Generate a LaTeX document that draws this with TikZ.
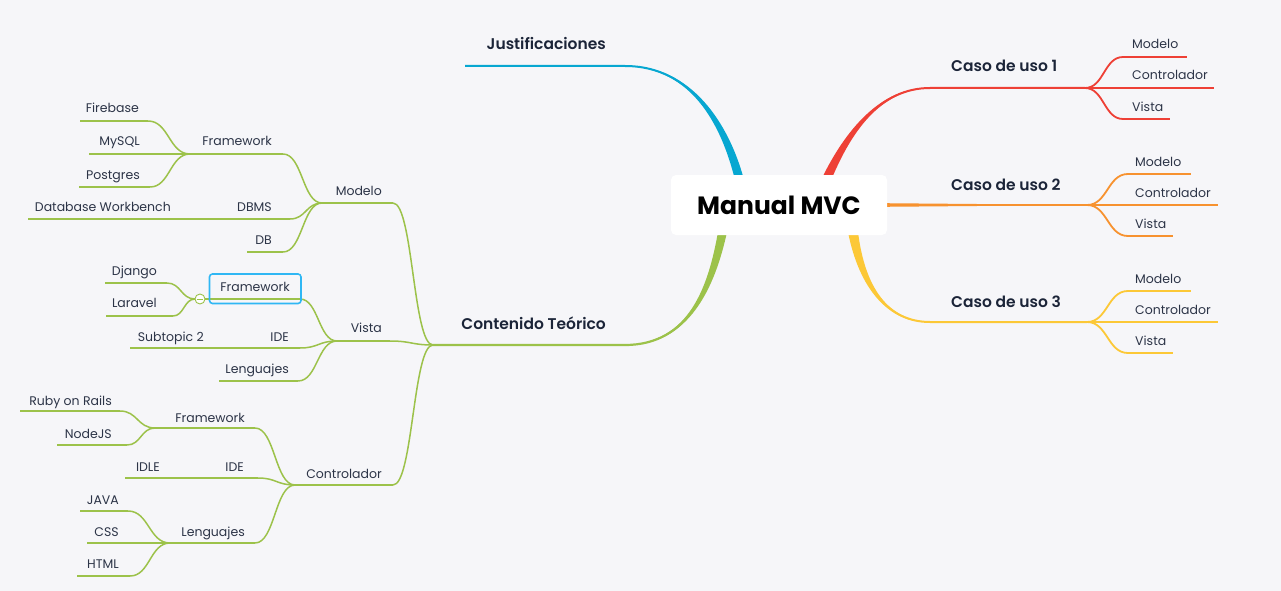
\documentclass[tikz,border=0pt]{standalone}
\usepackage{fontspec}
\setmainfont{Poppins}
\newfontfamily\hdfont{Poppins SemiBold}
\usetikzlibrary{calc}
\definecolor{bgc}{HTML}{F6F6F9}
\definecolor{grn}{HTML}{9CC24A}
\definecolor{blu}{HTML}{07A7D1}
\definecolor{redc}{HTML}{EE4036}
\definecolor{orc}{HTML}{F7922F}
\definecolor{yel}{HTML}{FCC837}
\definecolor{sel}{HTML}{2FB7F4}
\definecolor{txt}{HTML}{2C3447}
\definecolor{hd}{HTML}{1B2438}
\newcommand\mmlink[3][]{\draw[#1] let \p1=(#2), \p2=(#3), \n1={0.5*(\x1+\x2)} in (#2) .. controls (\n1,\y1) and (\n1,\y2) .. (#3);}
\tikzset{
  lbl/.style={inner sep=0pt, text=txt, font=\fontsize{12.5}{15}\selectfont},
  head/.style={inner sep=0pt, text=hd, font=\fontsize{15.5}{18}\hdfont},
  gl/.style={draw=grn, line width=2.5pt},
  gc/.style={draw=grn, line width=1.5pt},
  rl/.style={draw=#1, line width=1.8pt},
  rootbox/.style={fill=white, rounded corners=5pt, minimum width=216pt, minimum height=60pt, inner sep=0pt},
}
\begin{document}
\begin{tikzpicture}[x=1pt,y=-1pt]
\useasboundingbox (0,0) rectangle (1281,591);
\fill[bgc] (0,0) rectangle (1281,591);

% ---------- main branches ----------
\coordinate (j-a) at (465,66); \coordinate (j-b) at (625,66);
\coordinate (ct-a) at (433,345); \coordinate (ct-b) at (625,345);
\coordinate (c1-a) at (930,88); \coordinate (c1-b) at (1085,88);
\coordinate (c2-a) at (886,205); \coordinate (c2-b) at (1087,205);
\coordinate (c3-a) at (930,322); \coordinate (c3-b) at (1087,322);
\coordinate (j-r) at (739,178); \coordinate (ct-r) at (722.5,232);
\coordinate (c1-r) at (827,178); \coordinate (c3-r) at (853,232);

\draw[blu, line width=2pt] (j-a) -- (j-b) .. controls (692,66) and (725,125) .. (j-r);
\fill[blu] (j-b) .. controls (692,67.5) and (721,125) .. (734.5,178) -- (743.5,178) .. controls (729,125) and (692,64.5) .. (j-b) -- cycle;

\draw[grn, line width=2.2pt] (ct-a) -- (ct-b) .. controls (690,345) and (712,285) .. (ct-r);
\fill[grn] (ct-b) .. controls (690,343.5) and (708.5,285) .. (718,232) -- (727,232) .. controls (715.5,285) and (690,346.5) .. (ct-b) -- cycle;

\draw[redc, line width=2pt] (c1-b) -- (c1-a) .. controls (880,88) and (848,132) .. (c1-r);
\fill[redc] (c1-a) .. controls (880,86.5) and (844.5,132) .. (822,178) -- (832,178) .. controls (851.5,132) and (880,89.5) .. (c1-a) -- cycle;

\draw[orc, line width=2pt] (c2-a) -- (c2-b);
\fill[orc] (884,203.2) -- (1000,204.2) -- (1000,205.8) -- (884,206.8) -- cycle;

\draw[yel, line width=2pt] (c3-b) -- (c3-a) .. controls (888,322) and (862,288) .. (c3-r);
\fill[yel] (c3-a) .. controls (888,323.5) and (859,288) .. (848,232) -- (858,232) .. controls (865,288) and (888,320.5) .. (c3-a) -- cycle;

\node[head, anchor=base east] (j) at (606,50) {Justificaciones};
\node[head, anchor=base east] (ct) at (606,329) {Contenido Teórico};
\node[head, anchor=base west] (c1) at (951,72) {Caso de uso 1};
\node[head, anchor=base west] (c2) at (951,190) {Caso de uso 2};
\node[head, anchor=base west] (c3) at (951,307) {Caso de uso 3};

% ---------- right sub-branches ----------
\foreach \q/\yy/\xx in {c1/88/1123, c2/205/1128, c3/322/1128}{
  \coordinate (\q m-a) at (\xx,\yy-31); \coordinate (\q k-a) at (\xx,\yy); \coordinate (\q v-a) at (\xx,\yy+31);
}
\coordinate (c1m-b) at (1187,57); \coordinate (c1k-b) at (1214,88); \coordinate (c1v-b) at (1170,119);
\coordinate (c2m-b) at (1191,174); \coordinate (c2k-b) at (1218,205); \coordinate (c2v-b) at (1173,236);
\coordinate (c3m-b) at (1191,291); \coordinate (c3k-b) at (1218,322); \coordinate (c3v-b) at (1173,353);
\foreach \q/\col in {c1/redc, c2/orc, c3/yel}{
  \mmlink[rl=\col]{\q-b}{\q m-a}
  \mmlink[rl=\col]{\q-b}{\q v-a}
  \draw[rl=\col] (\q-b) -- (\q k-b);
  \draw[rl=\col] (\q m-a) -- (\q m-b);
  \draw[rl=\col] (\q v-a) -- (\q v-b);
}
\node[lbl, anchor=base west] (c1m) at (1132,49) {Modelo};
\node[lbl, anchor=base west] (c1k) at (1132,80) {Controlador};
\node[lbl, anchor=base west] (c1v) at (1132,111) {Vista};
\node[lbl, anchor=base west] (c2m) at (1135,166) {Modelo};
\node[lbl, anchor=base west] (c2k) at (1135,197) {Controlador};
\node[lbl, anchor=base west] (c2v) at (1135,228) {Vista};
\node[lbl, anchor=base west] (c3m) at (1135,283) {Modelo};
\node[lbl, anchor=base west] (c3k) at (1135,314) {Controlador};
\node[lbl, anchor=base west] (c3v) at (1135,345) {Vista};

% ---------- left: Contenido children ----------
\coordinate (mo-a) at (322,203); \coordinate (mo-b) at (393,203);
\coordinate (vi-a) at (337,341); \coordinate (vi-b) at (390,341);
\coordinate (co-a) at (295,485); \coordinate (co-b) at (393,485);
\foreach \w in {mo,vi,co}{ \draw[gl] (\w-a) -- (\w-b); \mmlink[gc]{\w-b}{ct-a} }

% Modelo children
\coordinate (mf-a) at (190,154); \coordinate (mf-b) at (283,154);
\coordinate (md-a) at (180,219); \coordinate (md-b) at (290,219);
\coordinate (mb-a) at (247,252); \coordinate (mb-b) at (283,252);
\foreach \w in {mf,md,mb}{ \draw[gl] (\w-a) -- (\w-b); \mmlink[gc]{\w-b}{mo-a} }
\coordinate (fb-a) at (80,121); \coordinate (fb-b) at (148,121);
\coordinate (my-a) at (89,154);
\coordinate (pg-a) at (79,187); \coordinate (pg-b) at (150,187);
\coordinate (dw-a) at (28,219);
\draw[gl] (fb-a) -- (fb-b); \mmlink[gc]{fb-b}{mf-a}
\draw[gl] (pg-a) -- (pg-b); \mmlink[gc]{pg-b}{mf-a}
\draw[gl] (my-a) -- (mf-a);
\draw[gl] (dw-a) -- (md-a);

% Vista children
\coordinate (vf-a) at (210,299); \coordinate (vf-b) at (300,299);
\coordinate (vd-a) at (212,348); \coordinate (vd-b) at (300,348);
\coordinate (vl-a) at (219,381); \coordinate (vl-b) at (298,381);
\foreach \w in {vf,vd,vl}{ \draw[gl] (\w-a) -- (\w-b); \mmlink[gc]{\w-b}{vi-a} }
\coordinate (dj-a) at (105,283); \coordinate (dj-b) at (167,283);
\coordinate (lv-a) at (106,316); \coordinate (lv-b) at (173,316);
\coordinate (tog-w) at (195,299); \coordinate (tog-e) at (205,299);
\draw[gl] (dj-a) -- (dj-b); \mmlink[gc]{dj-b}{tog-w}
\draw[gl] (lv-a) -- (lv-b); \mmlink[gc]{lv-b}{tog-w}
\draw[gc] (tog-e) -- (vf-a);
\coordinate (st-a) at (130,348);
\draw[gl] (st-a) -- (vd-a);
\node[circle, draw=grn, fill=white, line width=0.9pt, minimum size=10pt, inner sep=0pt] (tog) at (200,299) {};
\draw[grn, line width=0.9pt] ($(tog)+(-2.8,0)$) -- ($(tog)+(2.8,0)$);
\draw[sel, line width=1.6pt, rounded corners=3pt] (209.5,274) rectangle (301,303.5);

% Controlador children
\coordinate (cf-a) at (155,428); \coordinate (cf-b) at (255,428);
\coordinate (ci-a) at (210,478); \coordinate (ci-b) at (258,478);
\coordinate (cl-a) at (170,543); \coordinate (cl-b) at (255,543);
\foreach \w in {cf,ci,cl}{ \draw[gl] (\w-a) -- (\w-b); \mmlink[gc]{\w-b}{co-a} }
\coordinate (rr-a) at (20,411); \coordinate (rr-b) at (120,411);
\coordinate (nj-a) at (57,445); \coordinate (nj-b) at (127,445);
\draw[gl] (rr-a) -- (rr-b); \mmlink[gc]{rr-b}{cf-a}
\draw[gl] (nj-a) -- (nj-b); \mmlink[gc]{nj-b}{cf-a}
\coordinate (id-a) at (125,478);
\draw[gl] (id-a) -- (ci-a);
\coordinate (ja-a) at (80,511); \coordinate (ja-b) at (128,511);
\coordinate (cs-a) at (87,543);
\coordinate (ht-a) at (77,576); \coordinate (ht-b) at (130,576);
\draw[gl] (ja-a) -- (ja-b); \mmlink[gc]{ja-b}{cl-a}
\draw[gl] (cs-a) -- (cl-a);
\draw[gl] (ht-a) -- (ht-b); \mmlink[gc]{ht-b}{cl-a}

% ---------- left labels ----------
\node[lbl, anchor=base east] (fb) at (139,113) {Firebase};
\node[lbl, anchor=base east] (my) at (140,146) {MySQL};
\node[lbl, anchor=base east] (pg) at (140,179) {Postgres};
\node[lbl, anchor=base east] (mf) at (272,146) {Framework};
\node[lbl, anchor=base east] (mo) at (382,195) {Modelo};
\node[lbl, anchor=base east] (md) at (272,211) {DBMS};
\node[lbl, anchor=base east] (dw) at (171,211) {Database Workbench};
\node[lbl, anchor=base east] (mb) at (272,244) {DB};
\node[lbl, anchor=base east] (dj) at (157,275) {Django};
\node[lbl, anchor=base east] (lv) at (157,307) {Laravel};
\node[lbl, anchor=base east] (vf) at (290,291) {Framework};
\node[lbl, anchor=base east] (vi) at (382,332) {Vista};
\node[lbl, anchor=base east] (st) at (204,341) {Subtopic 2};
\node[lbl, anchor=base east] (vd) at (289,341) {IDE};
\node[lbl, anchor=base east] (vl) at (289,373) {Lenguajes};
\node[lbl, anchor=base east] (rr) at (112,405) {Ruby on Rails};
\node[lbl, anchor=base east] (cf) at (245,422) {Framework};
\node[lbl, anchor=base east] (nj) at (112,438) {NodeJS};
\node[lbl, anchor=base east] (id) at (160,471) {IDLE};
\node[lbl, anchor=base east] (ci) at (244,471) {IDE};
\node[lbl, anchor=base east] (co) at (382,478) {Controlador};
\node[lbl, anchor=base east] (ja) at (119,504) {JAVA};
\node[lbl, anchor=base east] (cs) at (119,536) {CSS};
\node[lbl, anchor=base east] (cl) at (245,536) {Lenguajes};
\node[lbl, anchor=base east] (ht) at (119,568) {HTML};

% ---------- root ----------
\node[rootbox] (root) at (779,205) {};
\node[inner sep=0pt, text=black, font=\fontsize{25}{30}\selectfont\bfseries, anchor=base] (roottxt) at (779,214) {Manual MVC};
\end{tikzpicture}
\end{document}
